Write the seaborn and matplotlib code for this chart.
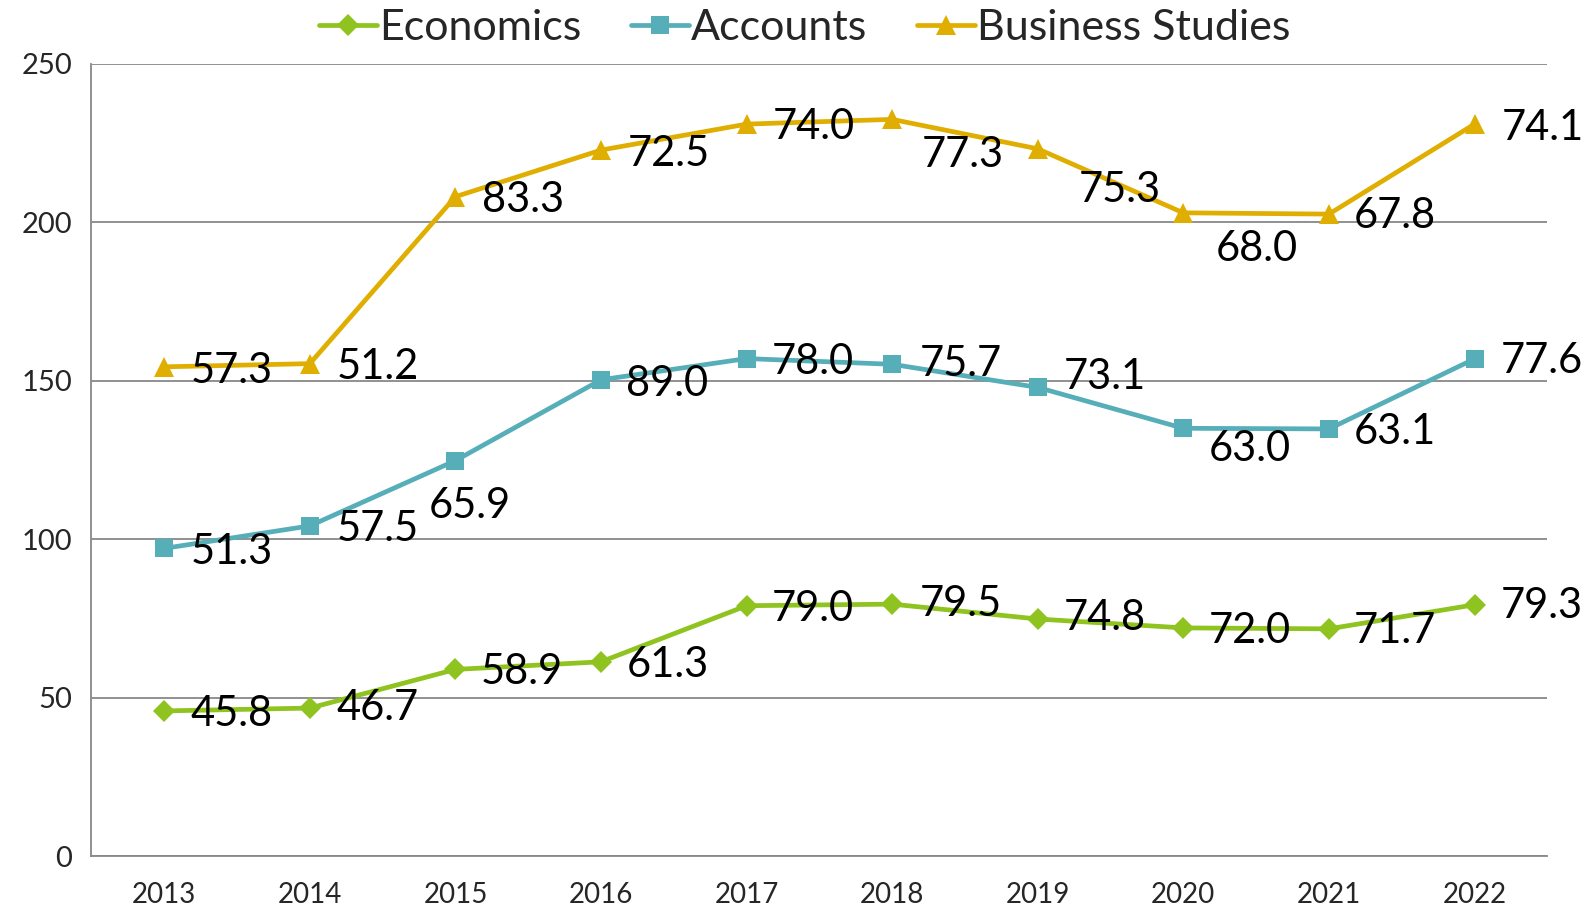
import numpy as np
import pandas as pd
from matplotlib import pyplot as plt
import seaborn as sns

years = ["2013", "2014", "2015", "2016", "2017", "2018", "2019", "2020", "2021", "2022"]
economics = [45.8, 46.7, 58.9, 61.3, 79.0, 79.5, 74.8, 72.0, 71.7, 79.3]
accounts = [51.3, 57.5, 65.9, 89.0, 78.0, 75.7, 73.1, 63.0, 63.1, 77.6]
business = [57.3, 51.2, 83.3, 72.5, 74.0, 77.3, 75.3, 68.0, 67.8, 74.1]
series_names = ["Economics", "Accounts", "Business Studies"]

# stacked line chart: each series sits on top of the previous ones
values = {"Economics": economics, "Accounts": accounts, "Business Studies": business}
rows = []
base = np.zeros(len(years))
for name in series_names:
    v = np.array(values[name])
    top = base + v
    for i, yr in enumerate(years):
        rows.append({"pos": i, "year": yr, "series": name, "value": v[i], "cum": top[i]})
    base = top
df = pd.DataFrame(rows)

colors = {"Economics": "#8FC31F", "Accounts": "#56AEB9", "Business Studies": "#E0AE00"}
markers = {"Economics": "D", "Accounts": "s", "Business Studies": "^"}
msize = {"Economics": 11, "Accounts": 13, "Business Studies": 15}

# label offsets in pixels (dx, dy downward)
offsets = {
    "Economics": [(26, 3), (26, 0), (25, 3), (25, 3), (25, 3), (27, 0), (26, -1), (25, 3), (24, 2), (26, 1)],
    "Accounts": [(26, 4), (26, 3), (-26, 45), (25, 4), (25, 3), (27, 0), (26, -10), (25, 20), (24, 3), (26, 2)],
    "Business Studies": [(26, 4), (26, 3), (26, 3), (26, 4), (26, 3), (29, 35), (40, 40), (32, 36), (24, 2), (27, 4)],
}

sns.set_style("white")
plt.rcParams["font.family"] = ["Lato", "DejaVu Sans"]

fig = plt.figure(figsize=(15.94, 9.13), dpi=100)
ax = fig.add_axes([0.0574, 0.0624, 0.9133, 0.8676])

for name in series_names:
    sub = df[df["series"] == name]
    sns.lineplot(data=sub, x="pos", y="cum", color=colors[name], marker=markers[name],
                 markersize=msize[name], markeredgewidth=0, linewidth=3.4, ax=ax,
                 label=name, zorder=3)
    for i, (_, r) in enumerate(sub.iterrows()):
        dx, dy = offsets[name][i]
        ax.annotate(f"{r['value']:.1f}", (r["pos"], r["cum"]), xytext=(dx * 1.017, -dy * 1.017),
                    textcoords="offset pixels", ha="left", va="center", fontsize=30, color="black",
                    zorder=4)

ax.set_xlim(-0.5, len(years) - 0.5)
ax.set_ylim(0, 250)
ax.set_yticks([0, 50, 100, 150, 200, 250])
ax.set_xticks(np.arange(len(years)))
ax.set_xticklabels(years)
ax.set_xticks(np.arange(len(years) + 1) - 0.5, minor=True)
ax.tick_params(axis="x", which="major", length=0, labelsize=20, pad=19)
ax.tick_params(axis="x", which="minor", length=10, width=1.2, color="#888888", direction="out")
ax.tick_params(axis="y", length=8, width=1.2, color="#888888", direction="out", labelsize=21, pad=6)
ax.yaxis.grid(True, color="#888888", linewidth=1.3)
ax.set_axisbelow(True)
for s in ["top", "right"]:
    ax.spines[s].set_visible(False)
for s in ["left", "bottom"]:
    ax.spines[s].set_color("#888888")
    ax.spines[s].set_linewidth(1.3)
ax.set_xlabel("")
ax.set_ylabel("")

ax.legend(loc="lower center", bbox_to_anchor=(0.49, 1.0), ncol=3, frameon=False, fontsize=31,
          handlelength=1.35, handletextpad=0.05, columnspacing=1.15, borderaxespad=0)

plt.savefig("out.png", dpi=100)
